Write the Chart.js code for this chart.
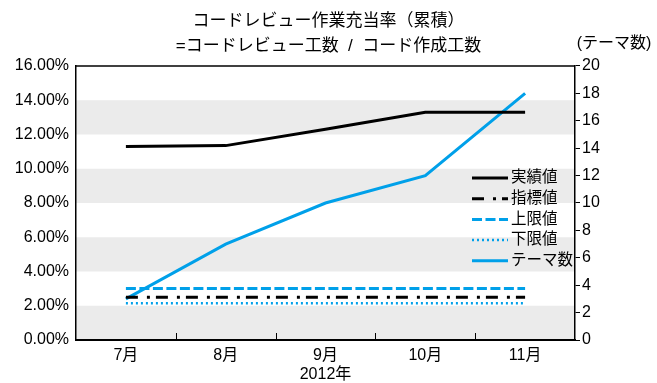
<!DOCTYPE html>
<html>
<head>
<meta charset="utf-8">
<script src="https://cdn.jsdelivr.net/npm/chart.js@4.4.0/dist/chart.umd.min.js"></script>
<style>
  html, body { margin: 0; padding: 0; background: #fff; }
</style>
</head>
<body>
<canvas id="chart" width="657" height="383"></canvas>
<script>
// data
const months = ['7月', '8月', '9月', '10月', '11月'];
const actualRate = [11.3, 11.35, 12.3, 13.3, 13.3];   // 実績値 (%)
const targetRate = [2.5, 2.5, 2.5, 2.5, 2.5];         // 指標値 (%)
const upperRate = [3.0, 3.0, 3.0, 3.0, 3.0];          // 上限値 (%)
const lowerRate = [2.15, 2.15, 2.15, 2.15, 2.15];     // 下限値 (%)
const themeCount = [3, 7, 10, 12, 18];                // テーマ数
const shadedBands = [[0, 2], [4, 6], [8, 10], [12, 14]];

const BLUE = '#00a0e9';
const FONT = "'Liberation Sans', 'Noto Sans CJK JP', sans-serif";
Chart.defaults.font.family = FONT;
Chart.defaults.color = '#000';

// gray bands, top frame line, inner x ticks, legend, right axis caption
const decorations = {
  id: 'decorations',
  beforeDraw(chart) {
    const { ctx, chartArea: a, scales: { y } } = chart;
    ctx.save();
    ctx.fillStyle = '#ebebeb';
    shadedBands.forEach(([lo, hi]) => {
      const top = y.getPixelForValue(hi);
      const bottom = y.getPixelForValue(lo);
      ctx.fillRect(a.left, top, a.right - a.left, bottom - top);
    });
    ctx.restore();
  },
  afterDraw(chart) {
    const { ctx, chartArea: a, scales: { x } } = chart;
    ctx.save();
    ctx.strokeStyle = '#000';
    ctx.lineWidth = 1.5;
    ctx.beginPath();
    ctx.moveTo(a.left, a.top);
    ctx.lineTo(a.right, a.top);
    ctx.stroke();

    // small tick marks between months, pointing up into the plot
    ctx.lineWidth = 1;
    for (let i = 0; i < months.length - 1; i++) {
      const px = Math.round((x.getPixelForTick(i) + x.getPixelForTick(i + 1)) / 2) + 0.5;
      ctx.beginPath();
      ctx.moveTo(px, a.bottom);
      ctx.lineTo(px, a.bottom - 7);
      ctx.stroke();
    }

    // legend
    ctx.font = '15.5px ' + FONT;
    ctx.textBaseline = 'middle';
    ctx.fillStyle = '#000';
    chart.data.datasets.forEach((ds, i) => {
      const ly = 178 + i * 20.7;
      ctx.strokeStyle = ds.borderColor;
      ctx.lineWidth = ds.borderWidth;
      ctx.setLineDash(ds.borderDash || []);
      ctx.beginPath();
      ctx.moveTo(472, ly);
      ctx.lineTo(508, ly);
      ctx.stroke();
      ctx.setLineDash([]);
      ctx.fillText(ds.label, 511, ly);
    });

    ctx.font = '16px ' + FONT;
    ctx.textAlign = 'center';
    ctx.fillText('(テーマ数)', 614, 44);
    ctx.restore();
  }
};

new Chart(document.getElementById('chart'), {
  type: 'line',
  data: {
    labels: months,
    datasets: [
      { label: '実績値', data: actualRate, yAxisID: 'y', borderColor: '#000', borderWidth: 3 },
      { label: '指標値', data: targetRate, yAxisID: 'y', borderColor: '#000', borderWidth: 3, borderDash: [12, 9, 3, 6] },
      { label: '上限値', data: upperRate, yAxisID: 'y', borderColor: BLUE, borderWidth: 3, borderDash: [10, 3.5] },
      { label: '下限値', data: lowerRate, yAxisID: 'y', borderColor: BLUE, borderWidth: 2.5, borderDash: [2, 3] },
      { label: 'テーマ数', data: themeCount, yAxisID: 'y2', borderColor: BLUE, borderWidth: 3 }
    ]
  },
  options: {
    responsive: false,
    animation: false,
    elements: { point: { radius: 0 }, line: { tension: 0, borderCapStyle: 'butt' } },
    layout: { padding: 0 },
    plugins: {
      legend: { display: false },
      tooltip: { enabled: false },
      title: {
        display: true,
        text: ['コードレビュー作業充当率（累積）', '=コードレビュー工数  /  コード作成工数'],
        color: '#000',
        font: { size: 17, weight: 'normal', lineHeight: 1.47 },
        padding: { top: 9, bottom: 7 }
      }
    },
    scales: {
      x: {
        offset: true,
        grid: { display: false, drawTicks: false },
        border: { display: true, color: '#000', width: 2 },
        ticks: { color: '#000', font: { size: 16 }, padding: 6 },
        title: { display: true, text: '2012年', color: '#000', font: { size: 16, lineHeight: 1 }, padding: 0 },
        afterFit(s) { s.height = 43; }
      },
      y: {
        position: 'left',
        min: 0,
        max: 16,
        grid: { display: false, drawTicks: false },
        border: { display: true, color: '#000', width: 1.5 },
        ticks: { stepSize: 2, padding: 7, color: '#000', font: { size: 16 }, callback: v => v.toFixed(2) + '%' },
        afterFit(s) { s.width = 76; }
      },
      y2: {
        position: 'right',
        min: 0,
        max: 20,
        grid: { display: true, drawOnChartArea: false, drawTicks: true, tickLength: 5, color: '#000' },
        border: { display: true, color: '#000', width: 1.5 },
        ticks: { stepSize: 2, padding: 2, color: '#000', font: { size: 16 } },
        afterFit(s) { s.width = 82; }
      }
    }
  },
  plugins: [decorations]
});
</script>
</body>
</html>
